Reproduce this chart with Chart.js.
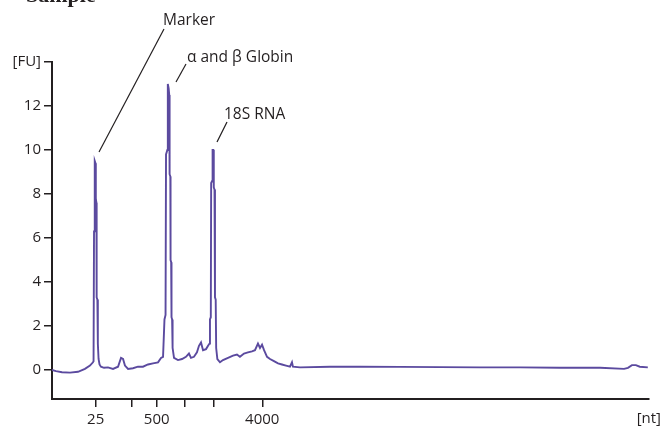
<!DOCTYPE html>
<html>
<head>
<meta charset="utf-8">
<script src="https://cdn.jsdelivr.net/npm/chart.js@4.4.0/dist/chart.umd.min.js"></script>
<style>
  html, body { margin: 0; padding: 0; background: #fff; }
  #wrap { width: 662px; height: 428px; }
</style>
</head>
<body>
<div id="wrap"><canvas id="chart" width="662" height="428"></canvas></div>
<script>
// electropherogram: migration time (s) against fluorescence (FU)
const timeSec = [
  19.00, 19.34, 19.84, 20.51, 21.18, 21.76, 22.18, 22.43, 22.48, 22.52,
  22.57, 22.59, 22.64, 22.67, 22.72, 22.74, 22.80, 22.84, 22.90, 22.98,
  23.10, 23.36, 23.69, 24.11, 24.53, 24.78, 24.95, 25.11, 25.37, 25.78,
  26.20, 26.62, 27.04, 27.46, 27.88, 28.13, 28.30, 28.42, 28.51, 28.55,
  28.66, 28.70, 28.77, 28.82, 28.85, 28.91, 28.93, 28.98, 29.01, 29.06,
  29.10, 29.22, 29.55, 29.89, 30.22, 30.47, 30.64, 30.89, 31.14, 31.31,
  31.48, 31.65, 31.90, 32.07, 32.19, 32.23, 32.30, 32.33, 32.42, 32.45,
  32.51, 32.55, 32.61, 32.65, 32.71, 32.75, 32.85, 33.07, 33.32, 33.74,
  34.16, 34.49, 34.74, 35.08, 35.41, 35.75, 36.00, 36.25, 36.42, 36.59,
  36.76, 37.01, 37.26, 37.59, 37.93, 38.26, 38.60, 38.93, 39.10, 39.18,
  39.77, 42.28, 44.80, 48.15, 51.50, 54.85, 58.20, 61.55, 64.90, 66.91,
  67.24, 67.57, 67.90, 68.23, 68.90
];
const fluor = [
  0.00, -0.05, -0.10, -0.12, -0.08, 0.05, 0.20, 0.35, 0.40, 6.30,
  6.40, 9.50, 9.40, 7.80, 7.60, 3.30, 3.20, 1.20, 0.50, 0.25,
  0.15, 0.10, 0.12, 0.05, 0.15, 0.55, 0.50, 0.20, 0.05, 0.08,
  0.15, 0.15, 0.25, 0.30, 0.35, 0.55, 0.60, 2.30, 2.50, 9.80,
  10.00, 13.00, 12.80, 12.50, 8.90, 8.80, 5.00, 4.90, 2.40, 2.30,
  1.00, 0.55, 0.45, 0.50, 0.60, 0.75, 0.55, 0.60, 0.80, 1.10,
  1.25, 0.90, 0.95, 1.10, 1.20, 2.30, 2.40, 8.50, 8.60, 10.00,
  10.00, 8.30, 8.20, 3.30, 3.20, 1.00, 0.50, 0.35, 0.45, 0.55,
  0.65, 0.70, 0.60, 0.75, 0.80, 0.85, 0.90, 1.20, 1.00, 1.15,
  0.90, 0.60, 0.50, 0.40, 0.30, 0.25, 0.20, 0.15, 0.35, 0.15,
  0.12, 0.15, 0.15, 0.14, 0.13, 0.12, 0.12, 0.10, 0.10, 0.05,
  0.10, 0.22, 0.22, 0.15, 0.12
];

// ladder: elution time of each size, only some are labelled
const ladderTime = [22.66, 25.67, 27.77, 30.08, 32.54, 36.61];
const ladderNt = ["25", "", "500", "", "", "4000"];

const yTicks = [0, 2, 4, 6, 8, 10, 12, 14];
const yLabels = ["0", "2", "4", "6", "8", "10", "12", "[FU]"];

const peakNames = ["Marker", "\u03b1 and \u03b2 Globin", "18S RNA"];

const INK = "#231f20";
const FONT = { family: "Open Sans", size: 15 };

// peak names with their leader lines, the [nt] unit and the cropped heading
const notes = {
  id: "notes",
  afterDraw(chart) {
    const c = chart.ctx;
    const spots = [
      { tx: 163, ty: 25, x1: 164, y1: 29, x2: 99, y2: 152 },
      { tx: 187, ty: 62, x1: 186, y1: 64, x2: 176, y2: 82 },
      { tx: 224, ty: 119, x1: 227, y1: 122, x2: 217, y2: 142 }
    ];
    c.save();
    c.fillStyle = INK;
    c.strokeStyle = INK;
    c.lineWidth = 1.2;
    c.font = "15.5px '" + FONT.family + "'";
    c.textBaseline = "alphabetic";
    spots.forEach((s, i) => {
      c.fillText(peakNames[i], s.tx, s.ty);
      c.beginPath();
      c.moveTo(s.x1, s.y1);
      c.lineTo(s.x2, s.y2);
      c.stroke();
    });
    c.font = FONT.size + "px '" + FONT.family + "'";
    c.textAlign = "right";
    c.fillText("[nt]", 661, 423);
    c.textAlign = "left";
    c.font = "bold 22px 'Liberation Serif'";
    c.fillText("Sample", 26, 2);
    c.restore();
  }
};

new Chart(document.getElementById("chart"), {
  type: "line",
  data: {
    datasets: [{
      data: timeSec.map((t, i) => ({ x: t, y: fluor[i] })),
      borderColor: "#5b4a9f",
      borderWidth: 1.9,
      pointRadius: 0,
      tension: 0,
      fill: false
    }]
  },
  options: {
    responsive: false,
    animation: false,
    layout: { padding: { top: 62, right: 13, left: 0, bottom: 0 } },
    plugins: { legend: { display: false }, tooltip: { enabled: false } },
    scales: {
      x: {
        type: "linear",
        min: 19,
        max: 69,
        afterBuildTicks: s => { s.ticks = ladderTime.map(v => ({ value: v })); },
        afterFit: s => { s.height = 29; },
        ticks: {
          autoSkip: false,
          maxRotation: 0,
          padding: 4,
          color: INK,
          font: FONT,
          callback: (v, i) => ladderNt[i]
        },
        grid: { drawOnChartArea: false, tickLength: 8, color: INK, lineWidth: 1.5 },
        border: { color: INK, width: 2 }
      },
      y: {
        min: -1.318,
        max: 14,
        afterBuildTicks: s => { s.ticks = yTicks.map(v => ({ value: v })); },
        afterFit: s => { s.width = 52; },
        ticks: {
          autoSkip: false,
          padding: 3,
          color: INK,
          font: FONT,
          callback: (v, i) => yLabels[i]
        },
        grid: { drawOnChartArea: false, tickLength: 8, color: INK, lineWidth: 1.5 },
        border: { color: INK, width: 2 }
      }
    }
  },
  plugins: [notes]
});
</script>
</body>
</html>
